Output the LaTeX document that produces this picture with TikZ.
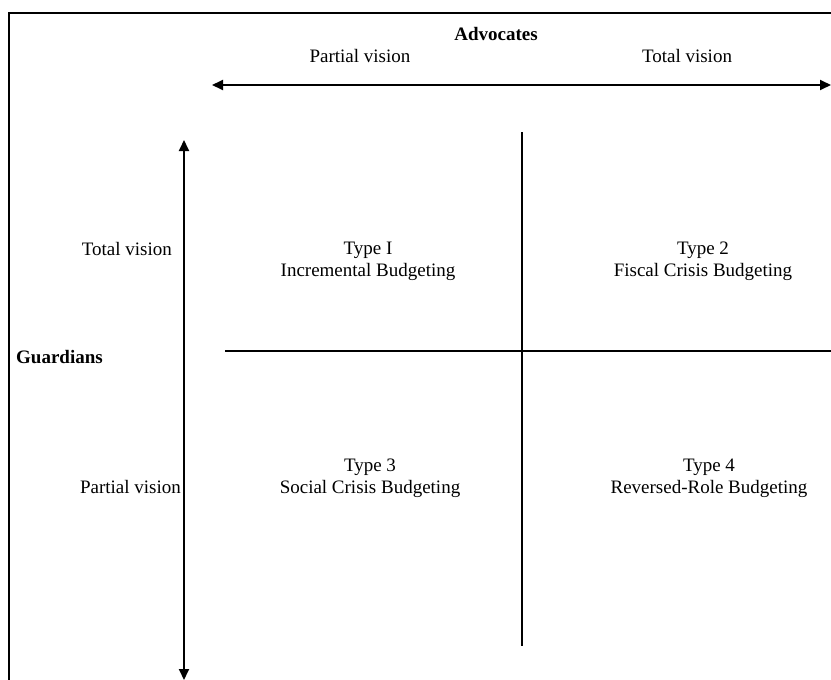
\documentclass[tikz,border=0pt]{standalone}
\usepackage{fontspec}
\setmainfont{Liberation Serif}
\usepackage{tikz}
\usetikzlibrary{arrows.meta}
\tikzset{
  lbl/.style     ={inner sep=0pt,font=\fontsize{19}{22}\selectfont},
  headlbl/.style ={inner sep=0pt,font=\fontsize{19}{22}\selectfont\bfseries},
  typelbl/.style ={inner sep=0pt,align=center,anchor=north,
                   font=\fontsize{19}{22}\selectfont},
  frameline/.style={line width=2.6pt,draw=black},
  axisarrow/.style={{Triangle[length=11pt,width=10pt]}-{Triangle[length=11pt,width=10pt]},
                   line width=1.8pt,draw=black},
  divider/.style ={line width=1.2pt,draw=black}
}
\begin{document}
\begin{tikzpicture}[x=1pt,y=-1pt]
        \useasboundingbox (0,0) rectangle (831,680);
        % outer frame, cut by the page edge
        \coordinate (fbl) at (9,690);
        \coordinate (ftl) at (9,13);
        \coordinate (ftr) at (840,13);
        \draw[frameline] (fbl) -- (ftl) -- (ftr);
        % advocates axis
        \node[headlbl,anchor=base] (adv) at (496,40) {Advocates};
        \node[lbl,anchor=base] (advpart) at (360,62) {Partial vision};
        \node[lbl,anchor=base] (advtot) at (687,62) {Total vision};
        \coordinate (advL) at (212,85);
        \coordinate (advR) at (831,85);
        \draw[axisarrow] (advL) -- (advR);
        % guardians axis
        \node[headlbl,anchor=base west] (grd) at (16,363) {Guardians};
        \node[lbl,anchor=base east] (grdtot) at (172,255) {Total vision};
        \node[lbl,anchor=base east] (grdpart) at (181,493) {Partial vision};
        \coordinate (grdT) at (184,140);
        \coordinate (grdB) at (184,680);
        \draw[axisarrow] (grdT) -- (grdB);
        % quadrant dividers
        \coordinate (vdT) at (522,132);
        \coordinate (vdB) at (522,646);
        \coordinate (hdL) at (225,351);
        \coordinate (hdR) at (831,351);
        \draw[divider] (vdT) -- (vdB);
        \draw[divider] (hdL) -- (hdR);
        % the four types
        \node[typelbl] (t1) at (368,242) {Type I\\Incremental Budgeting};
        \node[typelbl] (t2) at (703,242) {Type 2\\Fiscal Crisis Budgeting};
        \node[typelbl] (t3) at (370,459) {Type 3\\Social Crisis Budgeting};
        \node[typelbl] (t4) at (709,459) {Type 4\\Reversed-Role Budgeting};
      \end{tikzpicture}
\end{document}
